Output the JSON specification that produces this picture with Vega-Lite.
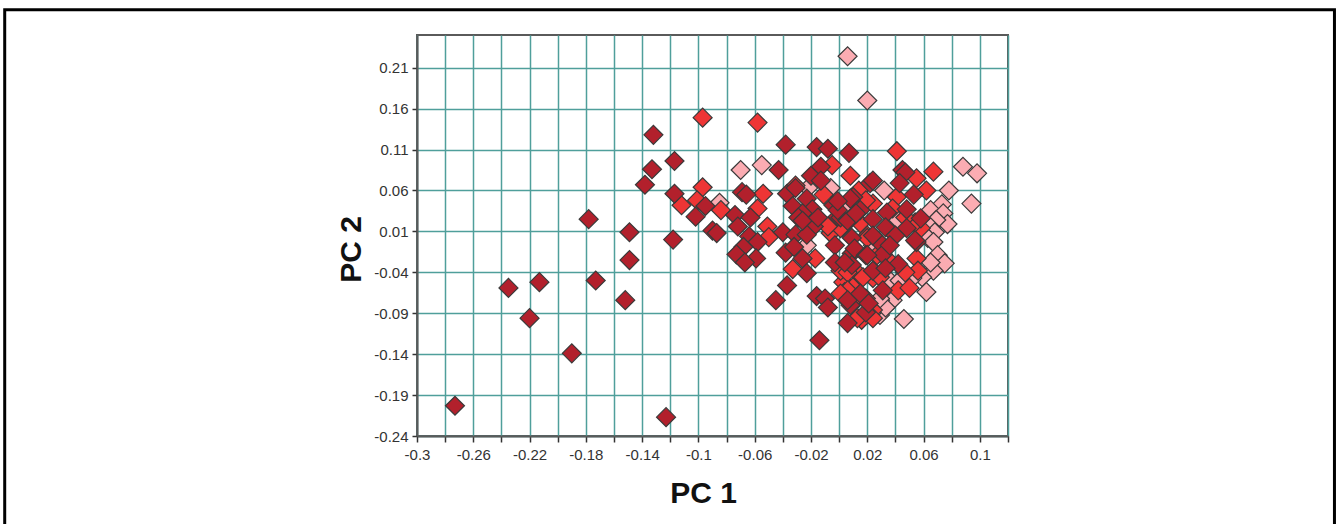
{"$schema":"https://vega.github.io/schema/vega-lite/v6.json","width":591,"height":401,"autosize":"none","padding":{"left":417,"top":35,"right":328,"bottom":88},"background":"white","view":{"stroke":"#5a5a5a","strokeWidth":2,"fill":"white"},
"layer":[
{"data":{"values":[
{"pc1":0.006,"pc2":0.224,"g":"P"},{"pc1":0.02,"pc2":0.17,"g":"P"},{"pc1":0.088,"pc2":0.089,"g":"P"},{"pc1":0.098,"pc2":0.081,"g":"P"},{"pc1":0.094,"pc2":0.044,"g":"P"},{"pc1":0.078,"pc2":0.06,"g":"P"},{"pc1":0.032,"pc2":0.06,"g":"P"},{"pc1":0.073,"pc2":0.043,"g":"P"},{"pc1":0.065,"pc2":0.036,"g":"P"},{"pc1":0.074,"pc2":0.032,"g":"P"},{"pc1":0.077,"pc2":0.019,"g":"P"},{"pc1":0.069,"pc2":0.024,"g":"P"},{"pc1":0.065,"pc2":0.015,"g":"P"},{"pc1":0.068,"pc2":0.009,"g":"P"},{"pc1":0.063,"pc2":0.002,"g":"P"},{"pc1":0.067,"pc2":-0.003,"g":"P"},{"pc1":0.07,"pc2":-0.019,"g":"P"},{"pc1":0.075,"pc2":-0.029,"g":"P"},{"pc1":0.067,"pc2":-0.038,"g":"P"},{"pc1":0.065,"pc2":-0.028,"g":"P"},{"pc1":0.059,"pc2":-0.046,"g":"P"},{"pc1":0.062,"pc2":-0.064,"g":"P"},{"pc1":0.046,"pc2":-0.097,"g":"P"},{"pc1":0.036,"pc2":-0.05,"g":"P"},{"pc1":0.029,"pc2":-0.092,"g":"P"},{"pc1":0.038,"pc2":-0.074,"g":"P"},{"pc1":0.052,"pc2":-0.047,"g":"P"},{"pc1":0.024,"pc2":-0.007,"g":"P"},{"pc1":-0.023,"pc2":-0.007,"g":"P"},{"pc1":-0.07,"pc2":0.085,"g":"P"},{"pc1":-0.055,"pc2":0.091,"g":"P"},{"pc1":-0.085,"pc2":0.045,"g":"P"},{"pc1":-0.006,"pc2":0.063,"g":"P"},{"pc1":-0.022,"pc2":0.063,"g":"P"},{"pc1":0.004,"pc2":0.042,"g":"P"},{"pc1":0.042,"pc2":0.024,"g":"P"},{"pc1":0.029,"pc2":-0.074,"g":"P"},{"pc1":0.022,"pc2":-0.086,"g":"P"},{"pc1":0.027,"pc2":-0.083,"g":"P"},{"pc1":0.033,"pc2":-0.083,"g":"P"},{"pc1":0.029,"pc2":-0.072,"g":"P"},{"pc1":0.043,"pc2":-0.05,"g":"P"},
{"pc1":-0.097,"pc2":0.149,"g":"R"},{"pc1":-0.058,"pc2":0.143,"g":"R"},{"pc1":-0.097,"pc2":0.064,"g":"R"},{"pc1":-0.112,"pc2":0.042,"g":"R"},{"pc1":-0.101,"pc2":0.048,"g":"R"},{"pc1":-0.084,"pc2":0.036,"g":"R"},{"pc1":-0.054,"pc2":0.056,"g":"R"},{"pc1":-0.058,"pc2":0.038,"g":"R"},{"pc1":-0.051,"pc2":0.016,"g":"R"},{"pc1":-0.05,"pc2":0.003,"g":"R"},{"pc1":-0.033,"pc2":-0.036,"g":"R"},{"pc1":-0.017,"pc2":-0.023,"g":"R"},{"pc1":-0.031,"pc2":0.066,"g":"R"},{"pc1":-0.005,"pc2":0.091,"g":"R"},{"pc1":0.008,"pc2":0.078,"g":"R"},{"pc1":-0.011,"pc2":0.055,"g":"R"},{"pc1":-0.006,"pc2":0.008,"g":"R"},{"pc1":0.002,"pc2":0.015,"g":"R"},{"pc1":0.041,"pc2":0.108,"g":"R"},{"pc1":0.067,"pc2":0.083,"g":"R"},{"pc1":0.055,"pc2":0.075,"g":"R"},{"pc1":0.062,"pc2":0.06,"g":"R"},{"pc1":0.014,"pc2":0.06,"g":"R"},{"pc1":0.024,"pc2":0.044,"g":"R"},{"pc1":0.041,"pc2":0.052,"g":"R"},{"pc1":0.038,"pc2":0.038,"g":"R"},{"pc1":0.02,"pc2":0.005,"g":"R"},{"pc1":0.001,"pc2":0.014,"g":"R"},{"pc1":0.015,"pc2":0.02,"g":"R"},{"pc1":0.058,"pc2":0.014,"g":"R"},{"pc1":0.055,"pc2":-0.023,"g":"R"},{"pc1":0.056,"pc2":-0.038,"g":"R"},{"pc1":0.042,"pc2":-0.062,"g":"R"},{"pc1":0.05,"pc2":-0.059,"g":"R"},{"pc1":0.035,"pc2":-0.025,"g":"R"},{"pc1":0.003,"pc2":-0.052,"g":"R"},{"pc1":0.01,"pc2":-0.058,"g":"R"},{"pc1":0.015,"pc2":-0.044,"g":"R"},{"pc1":0.001,"pc2":-0.038,"g":"R"},{"pc1":0.019,"pc2":-0.072,"g":"R"},{"pc1":0.016,"pc2":-0.098,"g":"R"},{"pc1":0.013,"pc2":-0.096,"g":"R"},{"pc1":0.024,"pc2":-0.047,"g":"R"},{"pc1":0.024,"pc2":-0.086,"g":"R"},{"pc1":0.004,"pc2":-0.064,"g":"R"},{"pc1":0.027,"pc2":-0.019,"g":"R"},{"pc1":0.02,"pc2":0.002,"g":"R"},{"pc1":0.006,"pc2":-0.04,"g":"R"},{"pc1":0.017,"pc2":-0.046,"g":"R"},{"pc1":0.047,"pc2":-0.04,"g":"R"},{"pc1":0.006,"pc2":-0.062,"g":"R"},{"pc1":0.001,"pc2":-0.066,"g":"R"},{"pc1":0.0135,"pc2":-0.072,"g":"R"},{"pc1":0.024,"pc2":-0.096,"g":"R"},{"pc1":0.029,"pc2":-0.046,"g":"R"},{"pc1":0.019,"pc2":0.048,"g":"R"},{"pc1":0.054,"pc2":0.021,"g":"R"},{"pc1":0.047,"pc2":0.027,"g":"R"},{"pc1":-0.008,"pc2":0.016,"g":"R"},
{"pc1":-0.273,"pc2":-0.203,"g":"D"},{"pc1":-0.235,"pc2":-0.059,"g":"D"},{"pc1":-0.213,"pc2":-0.052,"g":"D"},{"pc1":-0.22,"pc2":-0.096,"g":"D"},{"pc1":-0.19,"pc2":-0.139,"g":"D"},{"pc1":-0.178,"pc2":0.025,"g":"D"},{"pc1":-0.173,"pc2":-0.05,"g":"D"},{"pc1":-0.152,"pc2":-0.074,"g":"D"},{"pc1":-0.149,"pc2":0.009,"g":"D"},{"pc1":-0.149,"pc2":-0.025,"g":"D"},{"pc1":-0.138,"pc2":0.067,"g":"D"},{"pc1":-0.133,"pc2":0.086,"g":"D"},{"pc1":-0.132,"pc2":0.128,"g":"D"},{"pc1":-0.117,"pc2":0.096,"g":"D"},{"pc1":-0.117,"pc2":0.056,"g":"D"},{"pc1":-0.118,"pc2":0.0,"g":"D"},{"pc1":-0.123,"pc2":-0.217,"g":"D"},{"pc1":-0.095,"pc2":0.041,"g":"D"},{"pc1":-0.102,"pc2":0.028,"g":"D"},{"pc1":-0.09,"pc2":0.011,"g":"D"},{"pc1":-0.087,"pc2":0.008,"g":"D"},{"pc1":-0.074,"pc2":0.03,"g":"D"},{"pc1":-0.063,"pc2":0.027,"g":"D"},{"pc1":-0.072,"pc2":0.016,"g":"D"},{"pc1":-0.064,"pc2":0.004,"g":"D"},{"pc1":-0.058,"pc2":-0.003,"g":"D"},{"pc1":-0.068,"pc2":-0.009,"g":"D"},{"pc1":-0.073,"pc2":-0.018,"g":"D"},{"pc1":-0.059,"pc2":-0.023,"g":"D"},{"pc1":-0.067,"pc2":-0.028,"g":"D"},{"pc1":-0.069,"pc2":0.058,"g":"D"},{"pc1":-0.066,"pc2":0.055,"g":"D"},{"pc1":-0.043,"pc2":0.085,"g":"D"},{"pc1":-0.038,"pc2":0.116,"g":"D"},{"pc1":-0.016,"pc2":0.113,"g":"D"},{"pc1":-0.008,"pc2":0.111,"g":"D"},{"pc1":0.007,"pc2":0.106,"g":"D"},{"pc1":-0.013,"pc2":0.089,"g":"D"},{"pc1":-0.02,"pc2":0.078,"g":"D"},{"pc1":-0.013,"pc2":0.072,"g":"D"},{"pc1":-0.037,"pc2":0.056,"g":"D"},{"pc1":-0.031,"pc2":0.063,"g":"D"},{"pc1":-0.023,"pc2":0.05,"g":"D"},{"pc1":-0.033,"pc2":0.041,"g":"D"},{"pc1":-0.019,"pc2":0.037,"g":"D"},{"pc1":-0.026,"pc2":0.032,"g":"D"},{"pc1":-0.029,"pc2":0.027,"g":"D"},{"pc1":-0.018,"pc2":0.016,"g":"D"},{"pc1":-0.04,"pc2":0.009,"g":"D"},{"pc1":-0.031,"pc2":0.006,"g":"D"},{"pc1":-0.023,"pc2":0.006,"g":"D"},{"pc1":-0.038,"pc2":-0.016,"g":"D"},{"pc1":-0.032,"pc2":-0.009,"g":"D"},{"pc1":-0.026,"pc2":-0.023,"g":"D"},{"pc1":-0.023,"pc2":-0.041,"g":"D"},{"pc1":-0.037,"pc2":-0.056,"g":"D"},{"pc1":-0.045,"pc2":-0.074,"g":"D"},{"pc1":-0.016,"pc2":-0.069,"g":"D"},{"pc1":-0.01,"pc2":-0.072,"g":"D"},{"pc1":-0.008,"pc2":-0.083,"g":"D"},{"pc1":-0.014,"pc2":-0.123,"g":"D"},{"pc1":-0.004,"pc2":0.042,"g":"D"},{"pc1":-0.001,"pc2":0.028,"g":"D"},{"pc1":0.01,"pc2":0.052,"g":"D"},{"pc1":0.008,"pc2":0.05,"g":"D"},{"pc1":0.022,"pc2":0.069,"g":"D"},{"pc1":0.024,"pc2":0.072,"g":"D"},{"pc1":0.045,"pc2":0.085,"g":"D"},{"pc1":0.047,"pc2":0.082,"g":"D"},{"pc1":0.043,"pc2":0.069,"g":"D"},{"pc1":0.053,"pc2":0.055,"g":"D"},{"pc1":0.001,"pc2":0.027,"g":"D"},{"pc1":0.008,"pc2":0.025,"g":"D"},{"pc1":0.034,"pc2":0.033,"g":"D"},{"pc1":0.024,"pc2":0.025,"g":"D"},{"pc1":0.048,"pc2":0.037,"g":"D"},{"pc1":0.058,"pc2":0.026,"g":"D"},{"pc1":0.033,"pc2":0.015,"g":"D"},{"pc1":0.048,"pc2":0.014,"g":"D"},{"pc1":0.009,"pc2":0.002,"g":"D"},{"pc1":0.028,"pc2":-0.002,"g":"D"},{"pc1":0.055,"pc2":-0.003,"g":"D"},{"pc1":0.04,"pc2":0.005,"g":"D"},{"pc1":-0.003,"pc2":-0.007,"g":"D"},{"pc1":0.009,"pc2":-0.017,"g":"D"},{"pc1":0.011,"pc2":-0.011,"g":"D"},{"pc1":0.031,"pc2":-0.018,"g":"D"},{"pc1":0.042,"pc2":-0.03,"g":"D"},{"pc1":0.009,"pc2":-0.031,"g":"D"},{"pc1":0.024,"pc2":-0.038,"g":"D"},{"pc1":-0.003,"pc2":-0.028,"g":"D"},{"pc1":0.031,"pc2":-0.062,"g":"D"},{"pc1":0.008,"pc2":-0.08,"g":"D"},{"pc1":0.019,"pc2":-0.089,"g":"D"},{"pc1":0.006,"pc2":-0.102,"g":"D"},{"pc1":0.006,"pc2":-0.074,"g":"D"},{"pc1":0.015,"pc2":-0.066,"g":"D"},{"pc1":0.019,"pc2":-0.019,"g":"D"},{"pc1":0.024,"pc2":0.005,"g":"D"},{"pc1":0.004,"pc2":-0.028,"g":"D"},{"pc1":0.015,"pc2":0.036,"g":"D"},{"pc1":0.036,"pc2":-0.007,"g":"D"},{"pc1":0.02,"pc2":-0.019,"g":"D"},{"pc1":0.033,"pc2":-0.035,"g":"D"},{"pc1":0.021,"pc2":-0.078,"g":"D"},{"pc1":-0.001,"pc2":0.036,"g":"D"},{"pc1":0.054,"pc2":-0.001,"g":"D"},{"pc1":-0.026,"pc2":0.023,"g":"D"},{"pc1":-0.015,"pc2":0.027,"g":"D"},{"pc1":0.006,"pc2":0.023,"g":"D"},{"pc1":-0.001,"pc2":0.047,"g":"D"},{"pc1":0.012,"pc2":0.032,"g":"D"}
]},
"mark":{"type":"point","shape":"diamond","filled":true,"opacity":1,"size":360,"stroke":"#3a3a3a","strokeWidth":1.2},
"encoding":{
"x":{"field":"pc1","type":"quantitative","scale":{"domain":[-0.3,0.12],"nice":false,"zero":false},"axis":{"tickCount":30,"values":[-0.3,-0.28,-0.26,-0.24,-0.22,-0.2,-0.18,-0.16,-0.14,-0.12,-0.1,-0.08,-0.06,-0.04,-0.02,0,0.02,0.04,0.06,0.08,0.1,0.12],"labelExpr":"round((datum.value+0.3)*100)%4==0 ? replace(format(datum.value,'.2~f'),'−','-') : ' '","labelFont":"Liberation Sans","labelFontSize":15,"labelColor":"#333333","labelPadding":5,"labelOverlap":false,"labelFlush":false,"tickColor":"#333333","tickSize":6,"tickWidth":1.5,"domainColor":"#5a5a5a","domainWidth":2,"grid":true,"gridColor":"#4f9f9b","gridOpacity":1,"gridWidth":1.5,"title":"PC 1","titleFont":"Liberation Sans","titleFontWeight":"bold","titleFontSize":30,"titleColor":"#111111","titleX":286,"titleY":66,"titleBaseline":"alphabetic"}},
"y":{"field":"pc2","type":"quantitative","scale":{"domain":[-0.24,0.25],"nice":false,"zero":false},"axis":{"tickCount":30,"values":[-0.24,-0.19,-0.14,-0.09,-0.04,0.01,0.06,0.11,0.16,0.21],"labelExpr":"replace(format(datum.value,'.2f'),'−','-')","labelFont":"Liberation Sans","labelFontSize":15,"labelColor":"#333333","labelPadding":4,"labelOverlap":false,"labelFlush":false,"tickColor":"#333333","tickSize":5,"tickWidth":1.5,"domainColor":"#5a5a5a","domainWidth":2,"grid":true,"gridColor":"#4f9f9b","gridOpacity":1,"gridWidth":1.5,"title":"PC 2","titleFont":"Liberation Sans","titleFontWeight":"bold","titleFontSize":30,"titleColor":"#111111","titleX":-57,"titleY":214,"titleBaseline":"alphabetic"}},
"color":{"field":"g","type":"nominal","legend":null,"sort":null,"scale":{"domain":["P","R","D"],"range":["#fbacb2","#ee3535","#b2202c"]}}
}},
{"data":{"values":[{"pc1":-0.097,"pc2":0.149}]},"mark":{"type":"rect","fill":null,"stroke":"#000000","strokeWidth":3,"clip":false},"encoding":{"x":{"datum":-0.593,"type":"quantitative","scale":{"domain":[-0.3,0.12],"nice":false,"zero":false}},"x2":{"datum":0.352},"y":{"datum":0.281,"type":"quantitative","scale":{"domain":[-0.24,0.25],"nice":false,"zero":false}},"y2":{"datum":-0.361}}}
],"resolve":{"scale":{"x":"shared","y":"shared"}}}
